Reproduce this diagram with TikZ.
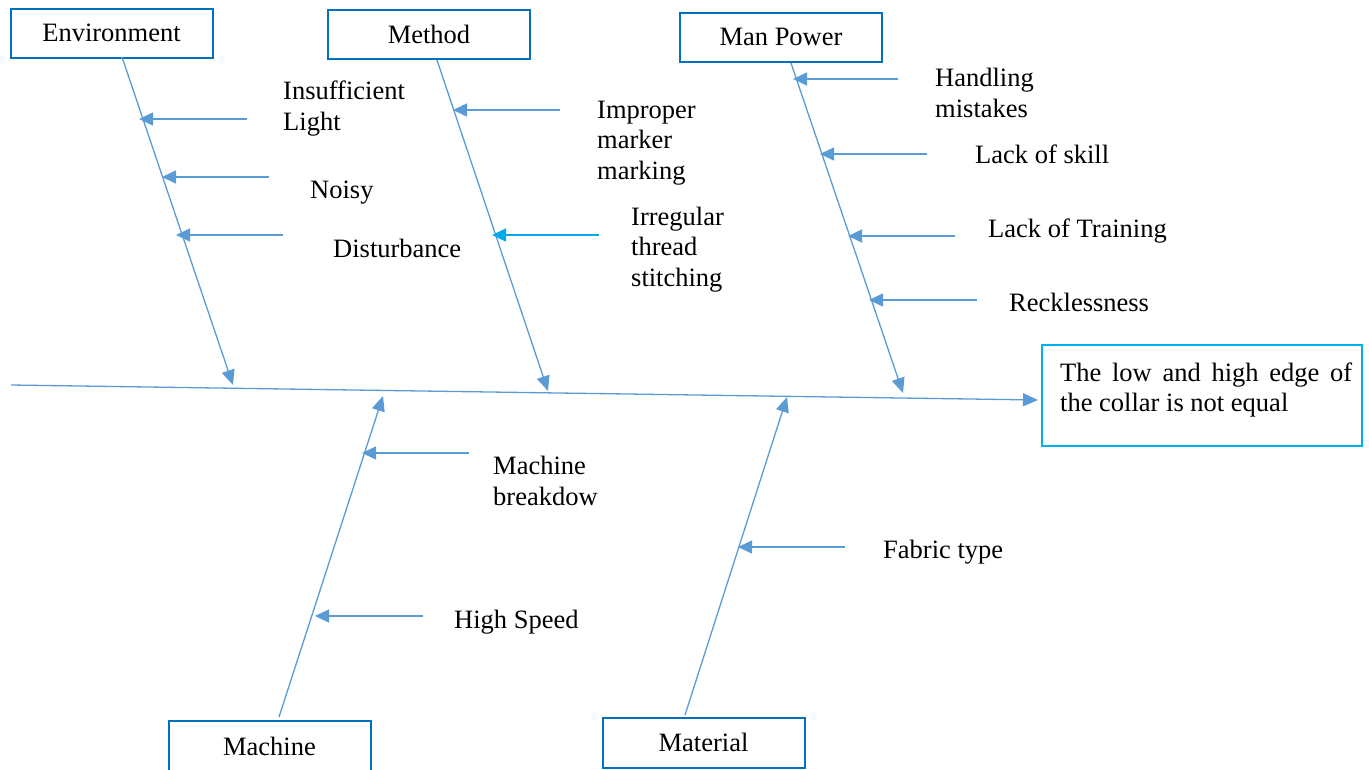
\documentclass[tikz,border=0pt]{standalone}
\usepackage{fontspec}
\setmainfont{Liberation Serif}
\usetikzlibrary{arrows.meta}
\definecolor{boneblue}{HTML}{5B9BD5}
\definecolor{boxblue}{HTML}{0070C0}
\definecolor{cyanbox}{HTML}{00B0F0}
\definecolor{cyanarrow}{HTML}{00A8EC}
\tikzset{
  catbox/.style={draw=boxblue, line width=2pt, minimum width=202pt, minimum height=49pt, inner sep=0pt, font=\fontsize{26.5}{30.5}\selectfont},
  effbox/.style={draw=cyanbox, line width=2pt, minimum width=320pt, minimum height=101pt, inner sep=0pt},
  lbl/.style={anchor=west, align=left, inner sep=0pt, font=\fontsize{26.5}{30.5}\selectfont},
  bone/.style={draw=boneblue, line width=1.3pt, -{Triangle[length=15pt,width=13pt]}},
  sub/.style={draw=boneblue, line width=1.5pt, -{Triangle[length=14pt,width=13pt]}},
  subcyan/.style={draw=cyanarrow, line width=1.5pt, -{Triangle[length=14pt,width=13pt]}}
}
\begin{document}
\begin{tikzpicture}[x=1pt,y=-1pt]
\useasboundingbox (0,0) rectangle (1369,769);
% category boxes
\node[catbox] (env) at (111.5,33) {Environment};
\node[catbox] (meth) at (429,34) {Method};
\node[catbox] (man) at (781,37) {Man Power};
\node[catbox, minimum height=52pt] (mach) at (269.5,746.5) {Machine};
\node[catbox, minimum height=50pt] (mat) at (703.5,742.5) {Material};
% effect
\node[effbox] (effect) at (1202,395.5) {};
\node[lbl] (efftext) at (1060,390) {\makebox[292pt][s]{The low and high edge of}\\the collar is not equal};
% spine
\coordinate (spinestart) at (11,385);
\coordinate (spineend) at (1038,400);
\draw[bone] (spinestart) -- (spineend);
% bones
\coordinate (envA) at (122,57);   \coordinate (envB) at (233,385);
\coordinate (methA) at (437,60);  \coordinate (methB) at (548,391);
\coordinate (manA) at (791,63);   \coordinate (manB) at (903,393);
\coordinate (machA) at (279,717); \coordinate (machB) at (383,396);
\coordinate (matA) at (685,715);  \coordinate (matB) at (787,397);
\draw[bone] (envA) -- (envB);
\draw[bone] (methA) -- (methB);
\draw[bone] (manA) -- (manB);
\draw[bone] (machA) -- (machB);
\draw[bone] (matA) -- (matB);
% environment causes
\coordinate (e1a) at (247,119); \coordinate (e1b) at (139,119);
\coordinate (e2a) at (269,177); \coordinate (e2b) at (162,177);
\coordinate (e3a) at (283,235); \coordinate (e3b) at (176,235);
\draw[sub] (e1a) -- (e1b);
\draw[sub] (e2a) -- (e2b);
\draw[sub] (e3a) -- (e3b);
\node[lbl] (t1) at (283,108.5) {Insufficient\\Light};
\node[lbl] (t2) at (310,192.5) {Noisy};
\node[lbl] (t3) at (333,248) {Disturbance};
% method causes
\coordinate (m1a) at (560,110); \coordinate (m1b) at (453,110);
\coordinate (m2a) at (599,235); \coordinate (m2b) at (492,235);
\draw[sub] (m1a) -- (m1b);
\draw[subcyan] (m2a) -- (m2b);
\node[lbl] (t4) at (597,143) {Improper\\marker\\marking};
\node[lbl] (t5) at (631,249.5) {Irregular\\thread\\stitching};
% man power causes
\coordinate (p1a) at (898,79);  \coordinate (p1b) at (793,79);
\coordinate (p2a) at (927,154); \coordinate (p2b) at (820,154);
\coordinate (p3a) at (955,236); \coordinate (p3b) at (848,236);
\coordinate (p4a) at (977,300); \coordinate (p4b) at (869,300);
\draw[sub] (p1a) -- (p1b);
\draw[sub] (p2a) -- (p2b);
\draw[sub] (p3a) -- (p3b);
\draw[sub] (p4a) -- (p4b);
\node[lbl] (t6) at (935,93) {Handling\\mistakes};
\node[lbl] (t7) at (975,154.5) {Lack of skill};
\node[lbl] (t8) at (988,231) {Lack of Training};
\node[lbl] (t9) at (1009,302) {Recklessness};
% machine causes
\coordinate (c1a) at (469,453); \coordinate (c1b) at (362,453);
\coordinate (c2a) at (423,616); \coordinate (c2b) at (315,616);
\draw[sub] (c1a) -- (c1b);
\draw[sub] (c2a) -- (c2b);
\node[lbl] (t10) at (493,481) {Machine\\breakdow};
\node[lbl] (t11) at (454,622.5) {High Speed};
% material causes
\coordinate (r1a) at (845,547); \coordinate (r1b) at (738,547);
\draw[sub] (r1a) -- (r1b);
\node[lbl] (t12) at (883,552.5) {Fabric type};
\end{tikzpicture}
\end{document}
